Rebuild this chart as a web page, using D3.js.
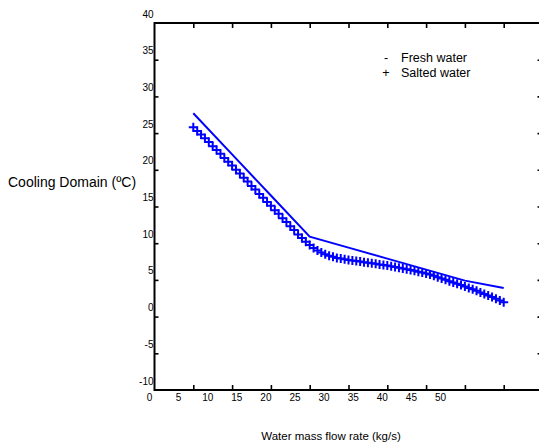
<!DOCTYPE html>
<html><head><meta charset="utf-8">
<script src="https://cdn.jsdelivr.net/npm/d3@7"></script>
<style>body{margin:0;background:#fff}svg{display:block}text{font-family:Arial,"Liberation Sans",sans-serif;fill:#000}</style>
</head><body><svg id="c" width="539" height="446"></svg>
<script>
// ---- data ----
const xTickLabels = [0,5,10,15,20,25,30,35,40,45,50];
const yTickLabels = [40,35,30,25,20,15,10,5,0,-5,-10];
const frameXTicks = [1,2,3,4,5,6,7,8,9,10];
const frameYTicks = [35,30,25,20,15,10,5,0,-5];
const freshX = [1,2,3,4,5,6,7,8,9];
const freshY = [27.7,22.1,16.5,10.9,9.4,7.9,6.4,4.9,3.9];
const saltX = [1.0,1.1,1.2,1.3,1.4,1.5,1.6,1.7,1.8,1.9,2.0,2.1,2.2,2.3,2.4,2.5,2.6,2.7,2.8,2.9,
  3.0,3.1,3.2,3.3,3.4,3.5,3.6,3.7,3.8,3.9,4.0,4.1,4.2,4.3,4.4,4.5,4.6,4.7,4.8,4.9,
  5.0,5.1,5.2,5.3,5.4,5.5,5.6,5.7,5.8,5.9,6.0,6.1,6.2,6.3,6.4,6.5,6.6,6.7,6.8,6.9,
  7.0,7.1,7.2,7.3,7.4,7.5,7.6,7.7,7.8,7.9,8.0,8.1,8.2,8.3,8.4,8.5,8.6,8.7,8.8,8.9,9.0];
const saltY = [25.8,25.3,24.8,24.3,23.8,23.2,22.7,22.2,21.6,21.1,20.6,20.0,19.5,18.9,18.4,17.8,17.3,16.7,16.2,15.6,
  15.1,14.5,14.0,13.4,12.9,12.3,11.8,11.2,10.7,10.2,9.75,9.35,9.0,8.75,8.5,8.3,8.15,8.0,7.9,7.8,
  7.70,7.63,7.56,7.49,7.42,7.35,7.27,7.19,7.11,7.03,6.95,6.86,6.77,6.67,6.57,6.46,6.35,6.23,6.11,6.0,
  5.88,5.72,5.55,5.37,5.19,5.01,4.83,4.65,4.47,4.29,4.1,3.91,3.71,3.51,3.30,3.09,2.88,2.66,2.44,2.2,1.95];
const legendLabels = ["Fresh water","Salted water"];
const legendSymbols = ["-","+"];

// ---- layout ----
const svg = d3.select("#c");
const x = d3.scaleLinear().domain([0,10]).range([154.5,542.5]);
const y = d3.scaleLinear().domain([-10,40]).range([390,23]);
const xLab = d3.scaleLinear().domain([0,50]).range([149,440]);
const blue = "#0000ff";

// frame
svg.append("rect").attr("x",x(0)).attr("y",y(40)).attr("width",x(10)-x(0)).attr("height",y(-10)-y(40))
  .attr("fill","none").attr("stroke","#000").attr("stroke-width",2);

function frameAxis(g){ g.select(".domain").remove(); g.selectAll(".tick line").attr("stroke","#000").attr("stroke-width",1.6); g.selectAll("text").remove(); }
svg.append("g").attr("transform",`translate(0,${y(-10)})`).call(d3.axisBottom(x).tickValues(frameXTicks).tickSize(-5)).call(frameAxis);
svg.append("g").attr("transform",`translate(0,${y(40)})`).call(d3.axisTop(x).tickValues(frameXTicks).tickSize(-5)).call(frameAxis);
svg.append("g").attr("transform",`translate(${x(0)},0)`).call(d3.axisLeft(y).tickValues(frameYTicks).tickSize(-4)).call(frameAxis);
svg.append("g").attr("transform",`translate(${x(10)},0)`).call(d3.axisRight(y).tickValues(frameYTicks).tickSize(-5)).call(frameAxis);

// tick labels
const gxl = svg.append("g").attr("transform",`translate(0,${y(-10)})`)
  .call(d3.axisBottom(xLab).tickValues(xTickLabels).tickSize(0).tickPadding(3.5).tickFormat(d=>d));
gxl.select(".domain").remove();
gxl.selectAll("text").attr("font-size",10).attr("font-family","Arial, Liberation Sans, sans-serif");

const gyl = svg.append("g").attr("transform",`translate(${x(0)},0)`)
  .call(d3.axisLeft(y).tickValues(yTickLabels).tickSize(0).tickPadding(1).tickFormat(d=>d));
gyl.select(".domain").remove();
gyl.selectAll("text").attr("font-size",10).attr("dy","-0.6em").attr("font-family","Arial, Liberation Sans, sans-serif");

// fresh water line
svg.append("path").datum(freshX.map((d,i)=>[d,freshY[i]]))
  .attr("d",d3.line().x(d=>x(d[0])).y(d=>y(d[1])))
  .attr("fill","none").attr("stroke",blue).attr("stroke-width",2);

// salted markers
svg.append("g").selectAll("path").data(saltX.map((d,i)=>[d,saltY[i]])).join("path")
  .attr("transform",d=>`translate(${x(d[0])},${y(d[1])})`)
  .attr("d","M-4.5,0H4.5M0,-4.5V4.5").attr("stroke",blue).attr("stroke-width",2).attr("fill","none");

// legend
const lg = svg.append("g").attr("font-size",12.5);
legendLabels.forEach((t,i)=>{
  lg.append("text").attr("x",386).attr("y",62+i*15).attr("text-anchor","middle").text(legendSymbols[i]);
  lg.append("text").attr("x",401).attr("y",62+i*15).text(t);
});

// axis titles
svg.append("text").attr("x",8).attr("y",187).attr("font-size",14).text("Cooling Domain (\u00BAC)");
svg.append("text").attr("x",331).attr("y",439.5).attr("font-size",11.5).attr("text-anchor","middle").text("Water mass flow rate (kg/s)");
</script></body></html>
